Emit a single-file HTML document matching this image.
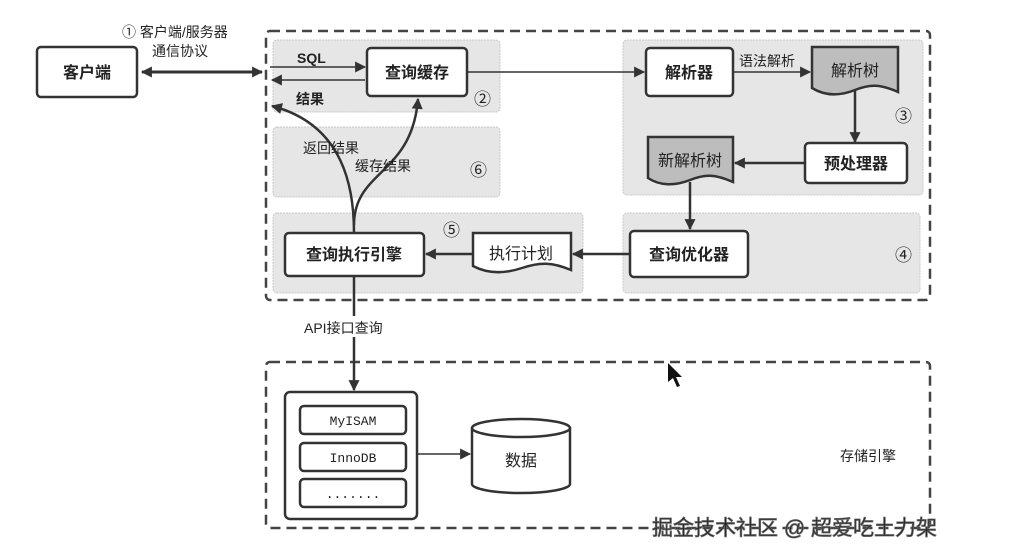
<!DOCTYPE html>
<html><head><meta charset="utf-8"><style>
html,body{margin:0;padding:0;background:#fff;width:1015px;height:558px;overflow:hidden}
text{font-family:"Liberation Sans","Noto Sans CJK SC",sans-serif;fill:#222}
</style></head><body>
<svg width="1015" height="558" viewBox="0 0 1015 558" xmlns="http://www.w3.org/2000/svg">
<defs>
<marker id="b" viewBox="0 0 10 10" refX="9" refY="5" markerWidth="13" markerHeight="11" orient="auto-start-reverse" markerUnits="userSpaceOnUse"><path d="M0,0 L10,5 L0,10 z" fill="#333"/></marker>
</defs>
<g fill="#e6e6e6" stroke="#c8c8c8" stroke-dasharray="2,1">
<rect x="273" y="40" width="227" height="72" rx="4"/>
<rect x="273" y="127" width="227" height="70" rx="4"/>
<rect x="273" y="213" width="310" height="80" rx="4"/>
<rect x="623" y="40" width="300" height="155" rx="4"/>
<rect x="623" y="213" width="297" height="80" rx="4"/>
</g>
<g fill="none" stroke="#444" stroke-width="2.5" stroke-dasharray="10,6">
<rect x="266" y="31" width="664" height="269" rx="4"/>
<rect x="266" y="362" width="664" height="166" rx="4"/>
</g>
<g fill="#fff" stroke="#333" stroke-width="2.5">
<rect x="37" y="47" width="100" height="50" rx="4"/>
<rect x="367" y="48" width="100" height="48" rx="4"/>
<rect x="646" y="48" width="87" height="48" rx="4"/>
<rect x="805" y="143" width="102" height="40" rx="4"/>
<rect x="630" y="231" width="118" height="46" rx="4"/>
<rect x="285" y="233" width="139" height="43" rx="4"/>
<rect x="285" y="392" width="132" height="127" rx="5"/>
<rect x="300" y="406" width="106" height="28" rx="4"/>
<rect x="300" y="443" width="106" height="28" rx="4"/>
<rect x="300" y="479" width="106" height="28" rx="4"/>
</g>
<path d="M812,47 H898 V92 C880,84 870,84 855,90 C840,96 825,96 812,88 Z" fill="#bdbdbd" stroke="#333" stroke-width="2.5"/>
<path d="M648,137 H733 V182 C715,174 705,174 690,180 C675,186 660,186 648,178 Z" fill="#bdbdbd" stroke="#333" stroke-width="2.5"/>
<path d="M473,233 H571 V270 C552,262 540,262 522,268 C504,274 488,274 473,266 Z" fill="#fff" stroke="#333" stroke-width="2.5"/>
<path d="M472,428 V484 A49,9 0 0 0 570,484 V428" fill="#fff" stroke="#333" stroke-width="2.5"/>
<ellipse cx="521" cy="428" rx="49" ry="9" fill="#fff" stroke="#333" stroke-width="2.5"/>
<g fill="none" stroke="#333">
<line x1="142" y1="72" x2="262" y2="72" stroke-width="3" marker-start="url(#b)" marker-end="url(#b)"/>
<line x1="270" y1="67" x2="365" y2="67" stroke-width="1.5" marker-end="url(#b)"/>
<line x1="365" y1="80" x2="272" y2="80" stroke-width="1.5" marker-end="url(#b)"/>
<line x1="467" y1="72" x2="644" y2="72" stroke-width="1.5" marker-end="url(#b)"/>
<line x1="733" y1="72" x2="810" y2="72" stroke-width="1.5" marker-end="url(#b)"/>
<line x1="855" y1="91" x2="855" y2="142" stroke-width="2.5" marker-end="url(#b)"/>
<line x1="805" y1="163" x2="735" y2="163" stroke-width="2.5" marker-end="url(#b)"/>
<line x1="690" y1="182" x2="690" y2="229" stroke-width="2.5" marker-end="url(#b)"/>
<line x1="630" y1="254" x2="573" y2="254" stroke-width="2.5" marker-end="url(#b)"/>
<line x1="473" y1="254" x2="426" y2="254" stroke-width="2.5" marker-end="url(#b)"/>
<path d="M354,233 C354,190 345,125 272,106" stroke-width="2.5" marker-end="url(#b)"/>
<path d="M354,225 C354,170 412,175 418,99" stroke-width="2.5" marker-end="url(#b)"/>
<line x1="354" y1="276" x2="354" y2="316" stroke-width="2.5"/>
<line x1="354" y1="337" x2="354" y2="390" stroke-width="2.5" marker-end="url(#b)"/>
<line x1="417" y1="454" x2="470" y2="454" stroke-width="1.5" marker-end="url(#b)"/>
</g>
<g font-size="16" text-anchor="middle" font-weight="bold">
<text x="87" y="78">客户端</text>
<text x="417" y="78">查询缓存</text>
<text x="689" y="78">解析器</text>
<text x="855" y="76" font-weight="normal">解析树</text>
<text x="856" y="169">预处理器</text>
<text x="690" y="166" font-weight="normal">新解析树</text>
<text x="689" y="260">查询优化器</text>
<text x="354" y="260">查询执行引擎</text>
<text x="521" y="259" font-weight="normal">执行计划</text>
<text x="521" y="466" font-weight="normal">数据</text>
</g>
<g font-size="13" text-anchor="middle">
<text x="353" y="425" style="font-family:'Liberation Mono',monospace">MyISAM</text>
<text x="353" y="462" style="font-family:'Liberation Mono',monospace">InnoDB</text>
<text x="353" y="498" style="font-family:'Liberation Mono',monospace">.......</text>
</g>
<g font-size="14">
<text x="122" y="37">① 客户端/服务器</text>
<text x="152" y="56">通信协议</text>
<text x="297" y="63" font-weight="bold">SQL</text>
<text x="296" y="104" font-weight="bold">结果</text>
<text x="303" y="153">返回结果</text>
<text x="355" y="171">缓存结果</text>
<text x="739" y="66">语法解析</text>
<text x="304" y="333">API接口查询</text>
<text x="840" y="461" fill="#555">存储引擎</text>
</g>
<g font-size="17" fill="#444">
<text x="474" y="105">②</text>
<text x="470" y="176">⑥</text>
<text x="443" y="236">⑤</text>
<text x="895" y="122">③</text>
<text x="895" y="261">④</text>
</g>
<path d="M668,363 L668,382 L673,378 L677,387 L680,386 L676,377 L682,377 Z" fill="#111"/>
<text x="652" y="535" font-size="21" fill="#fff" stroke="#666" stroke-width="0.8">掘金技术社区 @ 超爱吃土力架</text>
</svg>
</body></html>
